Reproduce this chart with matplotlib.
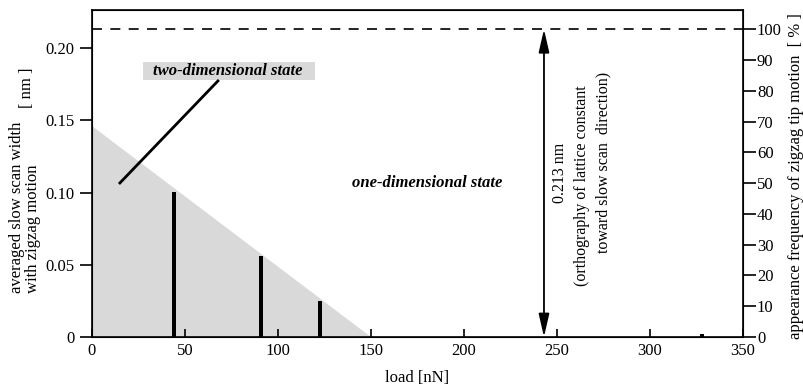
import numpy as np
import matplotlib.pyplot as plt
from matplotlib.patches import Rectangle

plt.rcParams['font.family'] = ['Liberation Serif', 'DejaVu Serif']

# measured data
load = [44, 91, 122.5, 328]
width_nm = [0.1005, 0.056, 0.025, 0.002]

# boundary of two-dimensional region (triangle)
region_x = [0, 0, 150]
region_y = [0, 0.146, 0]

lattice = 0.213  # nm -> 100 %

x_ticks = [0, 50, 100, 150, 200, 250, 300, 350]
y_ticks = [0, 0.05, 0.10, 0.15, 0.20]
y_tick_labels = ['0', '0.05', '0.10', '0.15', '0.20']
pct_ticks = list(range(0, 101, 10))

fig = plt.figure(figsize=(8.04, 3.86), dpi=100)
ax = fig.add_axes([92/804, 49/386, 651/804, 327/386])

ax.fill(region_x, region_y, color='#d9d9d9', lw=0, zorder=1)
ax.bar(load, width_nm, width=2.3, color='black', zorder=3)

ax.set_xlim(0, 350)
ymax = 0.2263
ax.set_ylim(0, ymax)
ax.set_xticks(x_ticks)
ax.set_yticks(y_ticks)
ax.set_yticklabels(y_tick_labels)
ax.tick_params(axis='x', direction='in', length=6, width=1.2, labelsize=12, pad=4)
ax.tick_params(axis='y', direction='out', length=9, width=1.2, labelsize=12)
for s in ax.spines.values():
    s.set_linewidth(1.2)

ax2 = ax.twinx()
ax2.set_ylim(0, ymax / lattice * 100)
ax2.set_yticks(pct_ticks)
ax2.tick_params(axis='y', direction='out', length=9, width=1.2, labelsize=12, pad=1)

# 100 % line
ax.axhline(lattice, color='black', lw=1.2, ls=(0, (6, 5)), zorder=2)

# double arrow
ax.annotate('', xy=(243, lattice), xytext=(243, 0),
            arrowprops=dict(arrowstyle='<|-|>,head_length=0.7,head_width=0.16',
                            color='black', lw=1.3,
                            mutation_scale=20, shrinkA=0, shrinkB=0))
ax.text(251.6, 0.1135, '0.213 nm', rotation=90, ha='center', va='center', fontsize=11.5)
ax.text(263.4, 0.1045, '(orthography of lattice constant', rotation=90,
        ha='center', va='center', fontsize=11.5)
ax.text(274.7, 0.1211, 'toward slow scan  direction)', rotation=90,
        ha='center', va='center', fontsize=11.5)

ax.text(180, 0.1066, 'one-dimensional state', style='italic', weight='bold',
        ha='center', va='center', fontsize=12)
ax.add_patch(Rectangle((27.4, 0.1779), 92.5, 0.0124, fc='#d9d9d9', ec='none', zorder=2))
ax.text(73, 0.1841, 'two-dimensional state', style='italic', weight='bold',
        ha='center', va='center', fontsize=12, zorder=3)
ax.plot([15.0, 67.7], [0.1066, 0.1772], color='black', lw=2, zorder=4)

ax.set_xlabel('load [nN]', fontsize=12, labelpad=8)

fig.text(25/804, 1 - 293/386, 'averaged slow scan width\nwith zigzag motion',
         rotation=90, ha='center', va='bottom', multialignment='left',
         fontsize=12, linespacing=1.0)
fig.text(27/804, 1 - 88/386, '[ nm ]', rotation=90, ha='center', va='center', fontsize=12)
fig.text(796/804, 1 - 176/386, 'appearance frequency of zigzag tip motion  [ % ]',
         rotation=90, ha='center', va='center', fontsize=12)

fig.savefig('out.png', dpi=100)
